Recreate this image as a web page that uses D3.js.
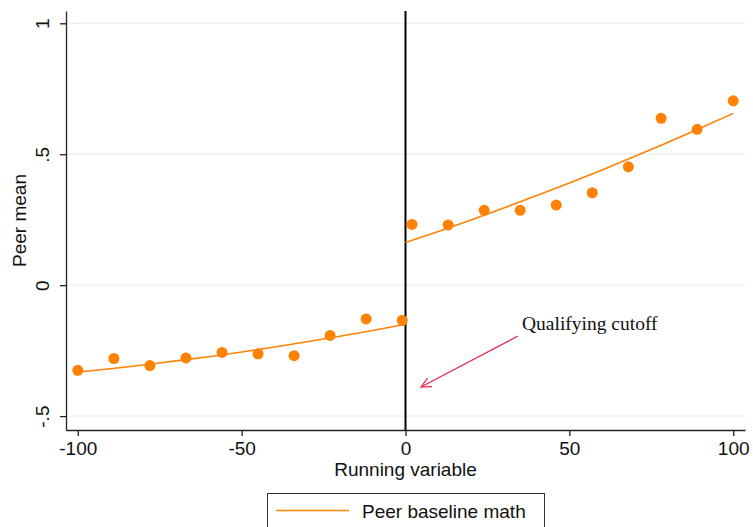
<!DOCTYPE html>
<html lang="en">
<head>
<meta charset="UTF-8">
<title>Peer mean by running variable</title>
<script src="https://d3js.org/d3.v7.min.js"></script>
<style>
  body { margin: 0; padding: 0; background: #fff; }
  svg { display: block; font-family: "Liberation Sans", Arial, sans-serif; }
</style>
</head>
<body>
<svg id="chart" width="753" height="527"></svg>
<script>
// binned means, left of cutoff
const leftX = [-100, -89, -78, -67, -56, -45, -34, -23, -12, -1];
const leftY = [-0.325, -0.280, -0.307, -0.278, -0.257, -0.262, -0.269, -0.192, -0.129, -0.134];
// binned means, right of cutoff
const rightX = [2, 13, 24, 35, 46, 57, 68, 78, 89, 100];
const rightY = [0.232, 0.230, 0.286, 0.286, 0.306, 0.353, 0.452, 0.637, 0.595, 0.704];

// fitted curves
const fitLeftX = [-100, -90, -80, -70, -60, -50, -40, -30, -20, -10, 0];
const fitLeftY = [-0.332, -0.319, -0.305, -0.289, -0.273, -0.255, -0.236, -0.216, -0.195, -0.173, -0.149];
const fitRightX = [0, 10, 20, 30, 40, 50, 60, 70, 80, 90, 100];
const fitRightY = [0.163, 0.205, 0.249, 0.295, 0.342, 0.390, 0.440, 0.492, 0.545, 0.600, 0.656];

const xTicks = [-100, -50, 0, 50, 100];
const xTickLabels = ["-100", "-50", "0", "50", "100"];
const yTicks = [-0.5, 0, 0.5, 1];
const yTickLabels = ["-.5", "0", ".5", "1"];

const orange = "#ff8205";
const fontSize = 19;
const svg = d3.select("#chart");

const x = d3.scaleLinear().domain([-103.6, 103.6]).range([66, 745]);
const y = d3.scaleLinear().domain([-0.553, 1.047]).range([430, 11]);

// grid lines
svg.append("g")
    .selectAll("line")
    .data(yTicks)
    .join("line")
    .attr("x1", 66).attr("x2", 745)
    .attr("y1", d => y(d)).attr("y2", d => y(d))
    .attr("stroke", "#e8f0f1")
    .attr("stroke-width", 1.3);

// y axis
const yAxis = svg.append("g")
    .attr("transform", "translate(66,0)")
    .call(d3.axisLeft(y).tickValues(yTicks).tickSize(6).tickSizeOuter(0)
        .tickFormat((d, i) => yTickLabels[i]));
yAxis.select(".domain").attr("stroke", "#222").attr("stroke-width", 1.3);
yAxis.selectAll(".tick line").attr("stroke", "#222").attr("stroke-width", 1.3);
yAxis.selectAll(".tick text")
    .attr("font-size", fontSize)
    .attr("fill", "#111")
    .attr("transform", "rotate(-90)")
    .attr("x", 0).attr("y", -24)
    .attr("dy", "0.35em")
    .attr("text-anchor", "middle");

// x axis
const xAxis = svg.append("g")
    .attr("transform", "translate(0,430)")
    .call(d3.axisBottom(x).tickValues(xTicks).tickSize(6).tickSizeOuter(0)
        .tickFormat((d, i) => xTickLabels[i]));
xAxis.select(".domain").attr("stroke", "#222").attr("stroke-width", 1.3);
xAxis.selectAll(".tick line").attr("stroke", "#222").attr("stroke-width", 1.3);
xAxis.selectAll(".tick text")
    .attr("font-size", fontSize)
    .attr("fill", "#111")
    .attr("y", 12);

// axis titles
svg.append("text")
    .attr("x", x(0)).attr("y", 476)
    .attr("text-anchor", "middle")
    .attr("font-size", fontSize)
    .attr("fill", "#111")
    .text("Running variable");

svg.append("text")
    .attr("transform", `translate(26,${(11 + 430) / 2}) rotate(-90)`)
    .attr("text-anchor", "middle")
    .attr("font-size", fontSize)
    .attr("fill", "#111")
    .text("Peer mean");

// cutoff line
svg.append("line")
    .attr("x1", x(0)).attr("x2", x(0))
    .attr("y1", 11).attr("y2", 430)
    .attr("stroke", "#000")
    .attr("stroke-width", 2);

// fitted lines
const line = d3.line().x(d => x(d[0])).y(d => y(d[1])).curve(d3.curveMonotoneX);
svg.append("path")
    .datum(d3.zip(fitLeftX, fitLeftY))
    .attr("d", line)
    .attr("fill", "none").attr("stroke", orange).attr("stroke-width", 1.6);
svg.append("path")
    .datum(d3.zip(fitRightX, fitRightY))
    .attr("d", line)
    .attr("fill", "none").attr("stroke", orange).attr("stroke-width", 1.6);

// points
const pts = d3.zip(leftX, leftY).concat(d3.zip(rightX, rightY));
svg.append("g")
    .selectAll("circle")
    .data(pts)
    .join("circle")
    .attr("cx", d => x(d[0]))
    .attr("cy", d => y(d[1]))
    .attr("r", 5.5)
    .attr("fill", orange);

// annotation
svg.append("text")
    .attr("x", 522).attr("y", 330)
    .attr("font-family", "'Liberation Serif', 'Times New Roman', serif")
    .attr("font-size", 19.5)
    .attr("fill", "#111")
    .text("Qualifying cutoff");

const ax1 = 518, ay1 = 336, ax2 = 421, ay2 = 387;
const ang = Math.atan2(ay2 - ay1, ax2 - ax1);
const head = 11, spread = 0.45;
svg.append("line")
    .attr("x1", ax1).attr("y1", ay1).attr("x2", ax2).attr("y2", ay2)
    .attr("stroke", "#e8274a").attr("stroke-width", 1.2);
svg.append("path")
    .attr("d", `M${ax2 - head * Math.cos(ang - spread)},${ay2 - head * Math.sin(ang - spread)}` +
        `L${ax2},${ay2}L${ax2 - head * Math.cos(ang + spread)},${ay2 - head * Math.sin(ang + spread)}`)
    .attr("fill", "none").attr("stroke", "#e8274a").attr("stroke-width", 1.2);

// legend
const legend = svg.append("g");
legend.append("rect")
    .attr("x", 267.5).attr("y", 493.5)
    .attr("width", 277).attr("height", 50)
    .attr("fill", "#fff").attr("stroke", "#333").attr("stroke-width", 1);
legend.append("line")
    .attr("x1", 276).attr("x2", 349)
    .attr("y1", 510.5).attr("y2", 510.5)
    .attr("stroke", orange).attr("stroke-width", 1.6);
legend.append("text")
    .attr("x", 362).attr("y", 517.5)
    .attr("font-size", fontSize)
    .attr("fill", "#111")
    .text("Peer baseline math");
</script>
</body>
</html>
